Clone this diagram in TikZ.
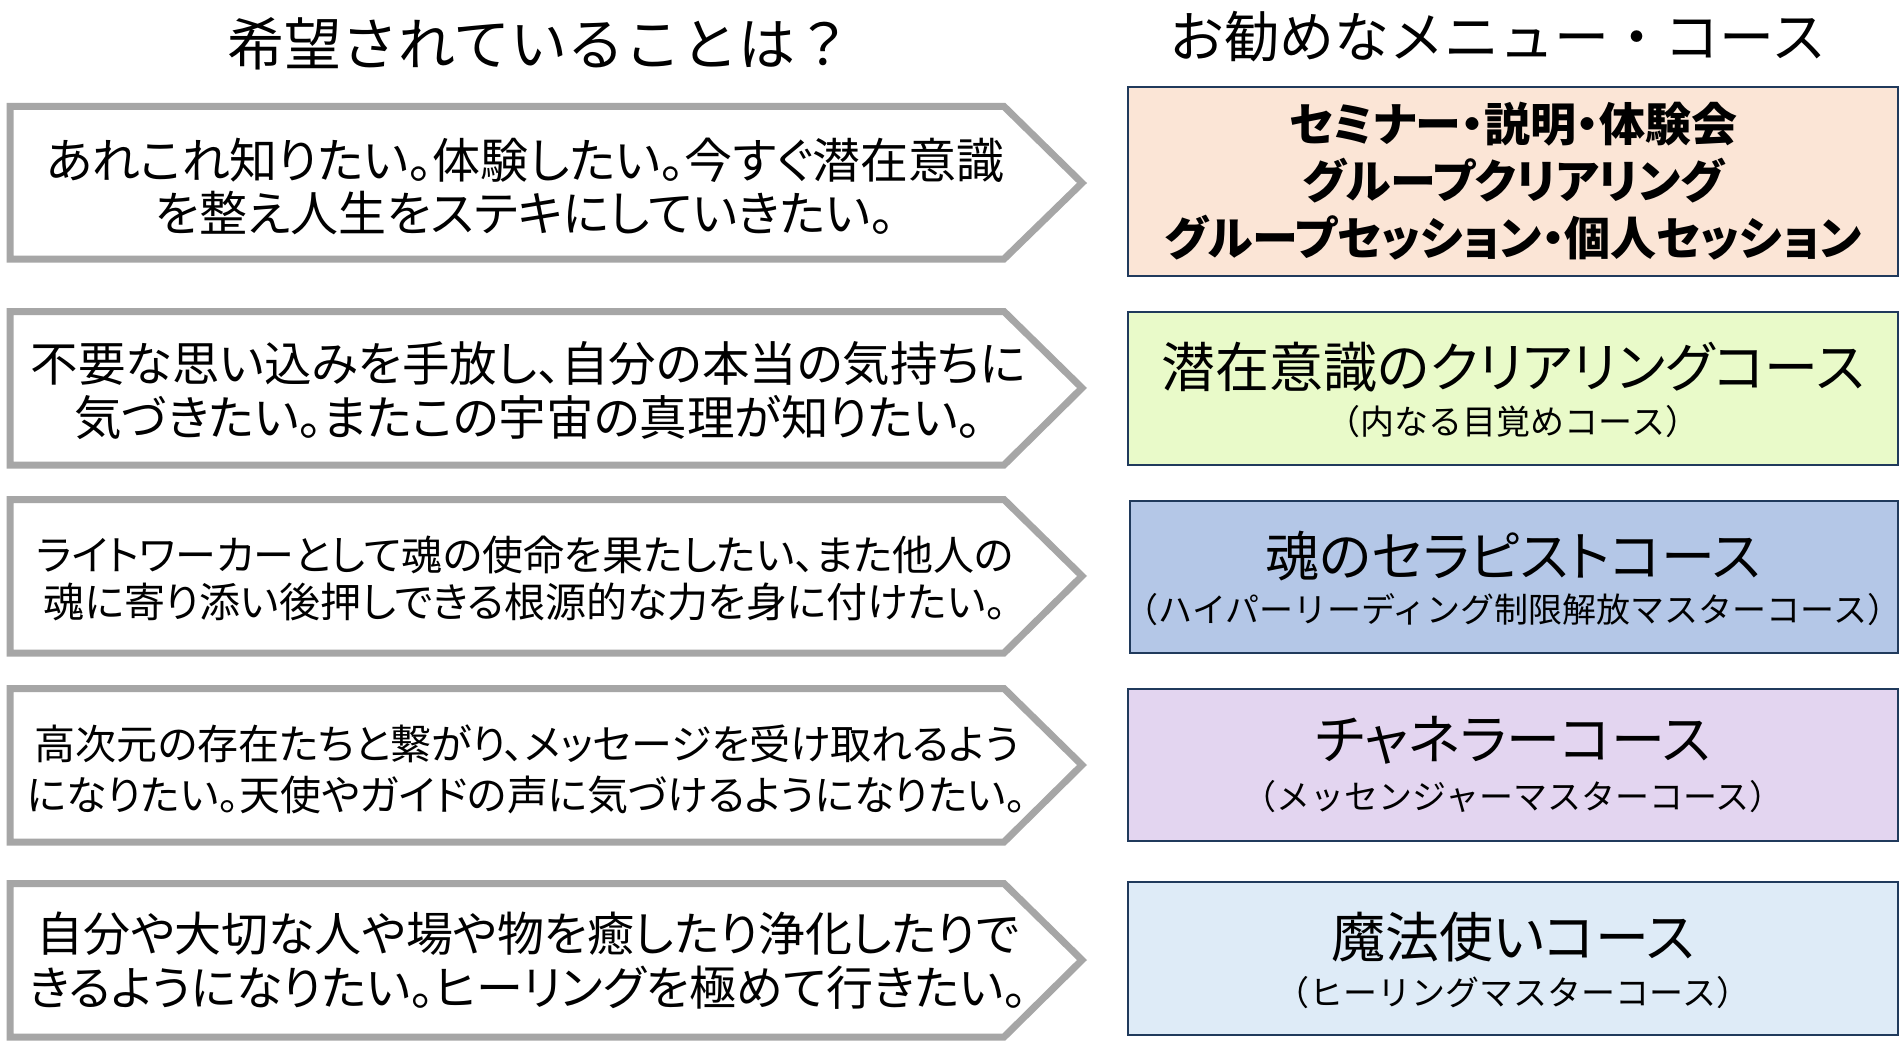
\documentclass[tikz,border=0pt]{standalone}
\usepackage{fontspec}
\setmainfont{Noto Sans CJK JP}[RawFeature=+palt]
\newfontfamily\monojp{Noto Sans CJK JP}
\definecolor{arrowgray}{HTML}{A6A6A6}
\definecolor{boxline}{HTML}{203A5C}
\definecolor{fillA}{HTML}{FBE5D6}
\definecolor{fillB}{HTML}{E9FAC9}
\definecolor{fillC}{HTML}{B4C7E7}
\definecolor{fillD}{HTML}{E3D5F0}
\definecolor{fillE}{HTML}{DEEBF7}
\newcommand{\fs}[1]{\fontsize{#1}{1.22\dimexpr#1pt\relax}\selectfont}
\tikzset{
  wish/.style={draw=arrowgray, line width=7pt, fill=white, line join=miter},
  menubox/.style={draw=boxline, line width=2.5pt},
  wishtext/.style={align=center, inner sep=0pt, text=black},
  boxtext/.style={align=center, inner sep=0pt, text=black},
  subtext/.style={align=center, inner sep=0pt, text=black, font=\monojp\fs{34}},
}
\begin{document}
\begin{tikzpicture}[x=1pt,y=-1pt]
\useasboundingbox (0,0) rectangle (1903,1046);
\fill[white] (0,0) rectangle (1903,1046);
% titles
\node[boxtext, font=\monojp\fs{57}] (tl) at (540,44) {希望されていることは？};
\node[boxtext, font=\monojp\fs{55}] (tr) at (1498,37) {お勧めなメニュー・コース};
% arrows (wishes)
\draw[wish] (10,106.5) -- (1004,106.5) -- (1082,183) -- (1004,259) -- (10,259) -- cycle;
\draw[wish] (10,311.5) -- (1004,311.5) -- (1082,388) -- (1004,465) -- (10,465) -- cycle;
\draw[wish] (10,499.5) -- (1004,499.5) -- (1082,576) -- (1004,653) -- (10,653) -- cycle;
\draw[wish] (10,688.5) -- (1004,688.5) -- (1082,765) -- (1004,842) -- (10,842) -- cycle;
\draw[wish] (10,883.5) -- (1004,883.5) -- (1082,960) -- (1004,1037) -- (10,1037) -- cycle;
\node[wishtext, font=\fontsize{48}{53}\selectfont] (w1) at (525,186)
  {あれこれ知りたい。体験したい。今すぐ潜在意識\\を整え人生をステキにしていきたい。};
\node[wishtext, font=\fontsize{47.5}{54}\selectfont] (w2) at (528,391)
  {不要な思い込みを手放し、自分の本当の気持ちに\\気づきたい。またこの宇宙の真理が知りたい。};
\node[wishtext, font=\fontsize{41}{47}\selectfont] (w3) at (525,578)
  {ライトワーカーとして魂の使命を果たしたい、また他人の\\魂に寄り添い後押しできる根源的な力を身に付けたい。};
\node[wishtext, font=\fontsize{41}{51}\selectfont] (w4) at (527,769)
  {高次元の存在たちと繋がり、メッセージを受け取れるよう\\になりたい。天使やガイドの声に気づけるようになりたい。};
\node[wishtext, font=\fontsize{47}{54}\selectfont] (w5) at (528,961)
  {自分や大切な人や場や物を癒したり浄化したりで\\きるようになりたい。ヒーリングを極めて行きたい。};
% menu boxes
\draw[menubox, fill=fillA] (1128,87) rectangle (1898,276);
\draw[menubox, fill=fillB] (1128,312) rectangle (1898,465);
\draw[menubox, fill=fillC] (1130,501) rectangle (1898,653);
\draw[menubox, fill=fillD] (1128,689) rectangle (1898,841);
\draw[menubox, fill=fillE] (1128,882) rectangle (1898,1035);
\node[boxtext, font=\bfseries\fontsize{46}{57}\selectfont] (m1) at (1513,181)
  {セミナー・説明・体験会\\グループクリアリング\\グループセッション・個人セッション};
\node[boxtext, font=\fs{54}] (m2) at (1513,367) {潜在意識のクリアリングコース};
\node[subtext] (m2s) at (1513,422) {（内なる目覚めコース）};
\node[boxtext, font=\fs{54}] (m3) at (1513,556) {魂のセラピストコース};
\node[subtext] (m3s) at (1513,610) {（ハイパーリーディング制限解放マスターコース）};
\node[boxtext, font=\fs{54}] (m4) at (1513,740) {チャネラーコース};
\node[subtext] (m4s) at (1513,797) {（メッセンジャーマスターコース）};
\node[boxtext, font=\fs{54}] (m5) at (1513,937) {魔法使いコース};
\node[subtext] (m5s) at (1513,993) {（ヒーリングマスターコース）};
\end{tikzpicture}
\end{document}
